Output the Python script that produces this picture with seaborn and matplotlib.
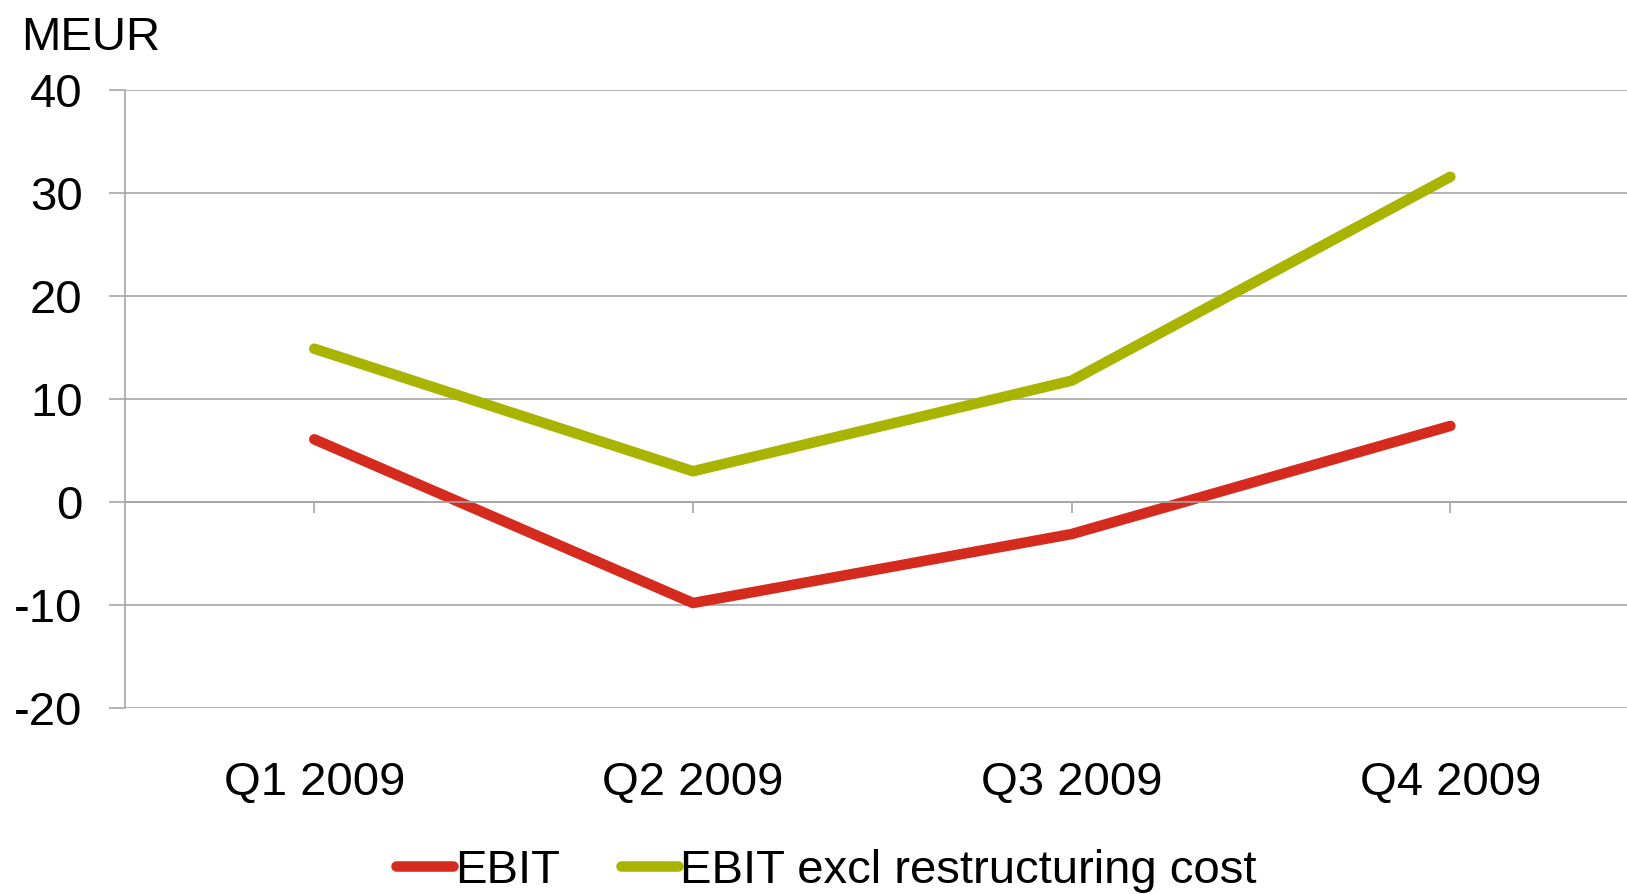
import matplotlib
matplotlib.use("Agg")
import matplotlib.pyplot as plt
from matplotlib.lines import Line2D
import seaborn as sns
import pandas as pd

# Quarterly results, MEUR
quarters = ["Q1 2009", "Q2 2009", "Q3 2009", "Q4 2009"]
ebit = [6.1, -9.8, -3.1, 7.4]
ebit_excl = [14.9, 3.0, 11.8, 31.6]
series_names = ["EBIT", "EBIT excl restructuring cost"]
y_ticks = [-20, -10, 0, 10, 20, 30, 40]

colors = {series_names[0]: "#d52b1e", series_names[1]: "#a8b400"}
grid_grey = "#a6a6a6"
FS = 34
LW = 7.6

sns.set_theme(style="white")
plt.rcParams["font.family"] = ["Liberation Sans", "DejaVu Sans"]

df = pd.DataFrame({
    "pos": list(range(len(quarters))) * 2,
    "value": ebit + ebit_excl,
    "series": [series_names[0]] * len(quarters) + [series_names[1]] * len(quarters),
})

fig = plt.figure(figsize=(16.27, 8.94), dpi=100)
ax = fig.add_axes([0.0768, 0.208, 0.931, 0.691])

sns.lineplot(data=df, x="pos", y="value", hue="series", palette=colors,
             linewidth=LW, ax=ax, legend=False, solid_capstyle="round",
             solid_joinstyle="round")

ax.set_xlim(-0.5, 3.5)
ax.set_ylim(-20, 40)
ax.set_yticks(y_ticks)
ax.set_yticklabels([str(v) for v in y_ticks], fontsize=FS, color="black")
ax.yaxis.grid(True, color=grid_grey, linewidth=1.2)
ax.set_axisbelow(True)
ax.tick_params(axis="y", which="both", left=True, length=11.5, width=1.2,
               color=grid_grey, pad=19, direction="out")
ax.set_xlabel("")
ax.set_ylabel("")

for side in ("top", "right"):
    ax.spines[side].set_visible(False)
ax.spines["left"].set_color(grid_grey)
ax.spines["left"].set_linewidth(1.2)

# category axis sits on the zero line, its labels at the bottom
ax.spines["bottom"].set_position(("data", 0))
ax.spines["bottom"].set_color(grid_grey)
ax.spines["bottom"].set_linewidth(1.2)
ax.set_xticks(range(len(quarters)))
ax.tick_params(axis="x", bottom=True, labelbottom=False, length=8,
               width=1.2, color=grid_grey, direction="out")

sec = ax.secondary_xaxis(0)
sec.set_xticks(range(len(quarters)))
sec.set_xticklabels(quarters, fontsize=FS, color="black")
sec.tick_params(axis="x", length=0, pad=38)
sec.spines["bottom"].set_visible(False)

fig.text(21 / 1627, 1 - 50 / 894, "MEUR", fontsize=FS, ha="left",
         va="baseline", color="black")

handles = [Line2D([], [], color=colors[n], linewidth=LW, solid_capstyle="round")
           for n in series_names]
leg = fig.legend(handles, series_names, loc="center", ncol=2, frameon=False,
                 fontsize=FS, bbox_to_anchor=(0.508, 0.026), handlelength=1.2,
                 handletextpad=0.05, columnspacing=1.3, borderaxespad=0)
for t in leg.get_texts():
    t.set_color("black")

fig.savefig("out.png", dpi=100, facecolor="white")
